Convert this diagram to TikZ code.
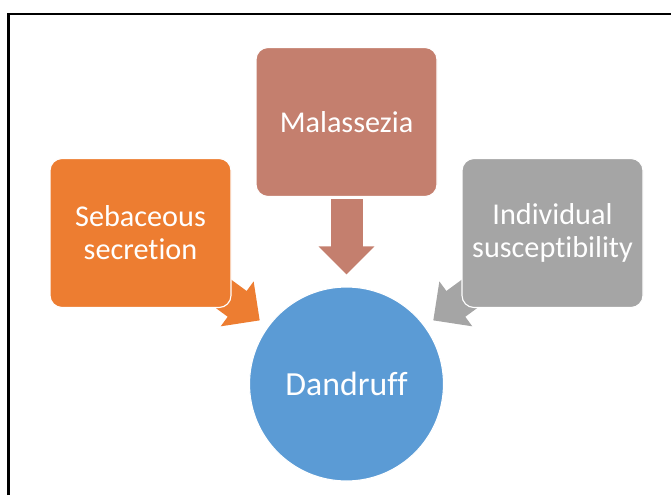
\documentclass[tikz,border=0pt]{standalone}
\usepackage{xcolor}
\usepackage{tikz}
\usetikzlibrary{positioning}
\usetikzlibrary{arrows.meta, backgrounds, calc}
\usepackage{fontspec}
\setmainfont{Carlito}[Ligatures={NoCommon}]

\definecolor{sebaorange}{HTML}{ED7D31}
\definecolor{malabrown}{HTML}{C47F6E}
\definecolor{suscgray}{HTML}{A5A5A5}
\definecolor{dandblue}{HTML}{5B9BD5}

\begin{document}
\begin{tikzpicture}[
        factorbox/.style={rectangle, rounded corners=0.3cm, draw=white, line width=0.8pt,
            minimum width=4.525cm, minimum height=3.725cm, text=white, align=center,
            font=\fontsize{21.5}{23.5}\selectfont},
        bigarrow/.style={line width=0.8cm, -{Triangle[width=1.35cm, length=0.7cm]}}
    ]
        \useasboundingbox (0,0) rectangle (16.775,12.375);
        \draw[line width=1.8pt] (0.2175,0) -- (0.2175,12.03) -- (16.775,12.03);

        \node[factorbox, fill=malabrown] (mal) at (8.6625,9.325) {Malassezia};
        \node[factorbox, fill=sebaorange] (seb) at (3.5125,6.55) {Sebaceous\\secretion};
        \node[factorbox, fill=suscgray] (sus) at (13.8125,6.55) {Individual\\susceptibility};
        \node[circle, fill=dandblue, draw=white, line width=0.8pt, minimum size=4.85cm,
            text=white, font=\fontsize{24}{28}\selectfont] (dand) at (8.6625,2.775) {Dandruff};

        \begin{scope}[on background layer]
            \draw[bigarrow, sebaorange, shorten >=0.25cm] (seb.center) -- (dand);
            \draw[bigarrow, suscgray, shorten >=0.25cm] (sus.center) -- (dand);
            \draw[bigarrow, malabrown, shorten <=0.05cm, shorten >=0.3cm] (mal) -- (dand);
        \end{scope}
    \end{tikzpicture}
\end{document}
